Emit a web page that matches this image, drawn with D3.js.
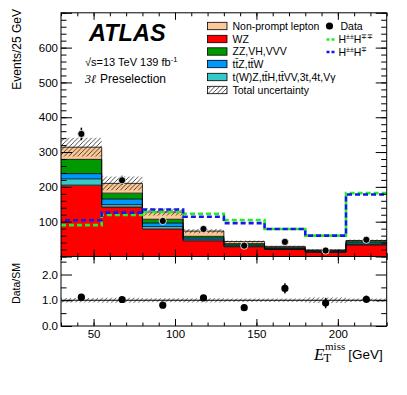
<!DOCTYPE html>
<html lang="en">
<head>
<meta charset="UTF-8">
<title>ETmiss 3l preselection</title>
<script src="https://cdn.jsdelivr.net/npm/d3@7"></script>
<style>
    body { margin: 0; background: #fff; }
    svg text { font-family: "Liberation Sans", Arial, Helvetica, sans-serif; }
</style>
</head>
<body>
<div id="d3"></div>
<script>
    // bin edges (GeV)
    var binEdges = [30, 55, 80, 105, 130, 155, 180, 205, 230];
    // backgrounds, events per bin
    var wz     = [205, 142, 79, 45, 28, 20, 12, 33];
    var tOther = [18, 7, 7, 3, 2, 1, 1, 2];
    var ttV    = [15, 16, 10, 5, 3, 2, 2, 4];
    var zzVVV  = [41, 17, 11, 5, 4, 3, 2, 5];
    var fakes  = [35, 28, 21, 15, 6, 3, 2, 2];
    var totUnc = [27, 20, 10, 6, 3, 2, 2, 3];
    // data
    var dataVals = [352, 219, 102, 79, 31, 42, 17, 48];
    var dataErr  = [18, 13, 10, 9, 6, 7, 4, 7];
    // signals
    var sigPP = [90, 119, 128, 123, 105, 79, 60, 182];
    var sigPM = [104, 126, 135, 114, 96, 79, 60, 178];
    // ratio panel
    var ratioVals = [1.12, 1.03, 0.81, 1.09, 0.71, 1.46, 0.89, 1.04];
    var ratioErr  = [0.06, 0.07, 0.08, 0.11, 0.13, 0.2, 0.2, 0.14];
    // axis labels
    var xTicks = [50, 100, 150, 200];
    var yTickLabels = [100, 200, 300, 400, 500, 600];
    var ratioTicks = [0, 1, 2];

    var bkgNames = ["Non-prompt lepton", "WZ", "ZZ,VH,VVV", "tt\u0304Z,tt\u0304W", "t(W)Z,tt\u0304H,tt\u0304VV,3t,4t,V\u03b3"];
    var bkgColors = ["#fcc898", "#ff0000", "#009a00", "#0096ff", "#35c9c9"];

    var width = 407, height = 395;
    var svg = d3.select("#d3").append("svg")
        .attr("width", width)
        .attr("height", height);

    var x = d3.scaleLinear().domain([30, 230]).range([61, 386.7]);
    var y = d3.scaleLinear().domain([0, 700]).range([256.5, 12.8]);
    var yr = d3.scaleLinear().domain([0, 2.7]).range([326, 256.5]);

    var defs = svg.append("defs");
    var pat = defs.append("pattern")
        .attr("id", "hatch")
        .attr("patternUnits", "userSpaceOnUse")
        .attr("width", 4.5).attr("height", 4.5);
    pat.append("path")
        .attr("d", "M-1,1 l2,-2 M0,4.5 l4.5,-4.5 M3.5,5.5 l2,-2")
        .attr("stroke", "#000").attr("stroke-width", 0.7);

    function steps(vals) {
        var p = vals.map(function (v, i) { return {x: binEdges[i], v: v}; });
        p.push({x: binEdges[binEdges.length - 1], v: vals[vals.length - 1]});
        return p;
    }

    //stack of backgrounds, bottom to top
    var keys = ["wz", "tOther", "ttV", "zz", "fakes"];
    var keyColor = {wz: bkgColors[1], tOther: bkgColors[4], ttV: bkgColors[3], zz: bkgColors[2], fakes: bkgColors[0]};
    var rows = wz.map(function (v, i) {
        return {wz: v, tOther: tOther[i], ttV: ttV[i], zz: zzVVV[i], fakes: fakes[i]};
    });
    var series = d3.stack().keys(keys)(rows);

    var area = d3.area().curve(d3.curveStepAfter)
        .x(function (d) { return x(d.x); })
        .y0(function (d) { return y(d.y0); })
        .y1(function (d) { return y(d.y1); });
    var line = d3.line().curve(d3.curveStepAfter)
        .x(function (d) { return x(d.x); })
        .y(function (d) { return y(d.v); });

    var gStack = svg.append("g");
    series.forEach(function (s) {
        var pts = s.map(function (d, i) { return {x: binEdges[i], y0: d[0], y1: d[1]}; });
        pts.push({x: 230, y0: s[s.length - 1][0], y1: s[s.length - 1][1]});
        gStack.append("path").attr("d", area(pts)).attr("fill", keyColor[s.key]);
    });
    series.forEach(function (s) {
        gStack.append("path")
            .attr("d", line(steps(s.map(function (d) { return d[1]; }))))
            .attr("fill", "none").attr("stroke", "#000").attr("stroke-width", 0.8);
    });

    //total uncertainty
    var total = series[series.length - 1].map(function (d) { return d[1]; });
    var uncPts = total.map(function (t, i) { return {x: binEdges[i], y0: t - totUnc[i], y1: t + totUnc[i]}; });
    uncPts.push({x: 230, y0: uncPts[uncPts.length - 1].y0, y1: uncPts[uncPts.length - 1].y1});
    svg.append("path").attr("d", area(uncPts)).attr("fill", "url(#hatch)");

    //signals
    svg.append("path").attr("d", line(steps(sigPP)))
        .attr("fill", "none").attr("stroke", "#22ee22").attr("stroke-width", 2.6)
        .attr("stroke-dasharray", "5,3");
    svg.append("path").attr("d", line(steps(sigPM)))
        .attr("fill", "none").attr("stroke", "#1515f0").attr("stroke-width", 2.6)
        .attr("stroke-dasharray", "5,3").attr("stroke-dashoffset", 4);

    //data
    var centers = wz.map(function (v, i) { return (binEdges[i] + binEdges[i + 1]) / 2; });
    var gData = svg.append("g");
    gData.selectAll("line").data(dataVals).enter().append("line")
        .attr("x1", function (d, i) { return x(centers[i]); })
        .attr("x2", function (d, i) { return x(centers[i]); })
        .attr("y1", function (d, i) { return y(d - dataErr[i]); })
        .attr("y2", function (d, i) { return y(d + dataErr[i]); })
        .attr("stroke", "#000").attr("stroke-width", 1.5);
    gData.selectAll("circle").data(dataVals).enter().append("circle")
        .attr("cx", function (d, i) { return x(centers[i]); })
        .attr("cy", function (d) { return y(d); })
        .attr("r", 3.6).attr("fill", "#000").attr("stroke", "#fff").attr("stroke-width", 0.8);

    //ratio panel
    var rUnc = total.map(function (t, i) { return totUnc[i] / t; });
    var rPts = rUnc.map(function (u, i) { return {x: binEdges[i], y0: 1 - u, y1: 1 + u}; });
    rPts.push({x: 230, y0: rPts[rPts.length - 1].y0, y1: rPts[rPts.length - 1].y1});
    var rArea = d3.area().curve(d3.curveStepAfter)
        .x(function (d) { return x(d.x); })
        .y0(function (d) { return yr(d.y0); })
        .y1(function (d) { return yr(d.y1); });
    svg.append("path").attr("d", rArea(rPts)).attr("fill", "url(#hatch)");
    svg.append("line").attr("x1", x(30)).attr("x2", x(230)).attr("y1", yr(1)).attr("y2", yr(1))
        .attr("stroke", "#000").attr("stroke-width", 1);
    var gR = svg.append("g");
    gR.selectAll("line").data(ratioVals).enter().append("line")
        .attr("x1", function (d, i) { return x(centers[i]); })
        .attr("x2", function (d, i) { return x(centers[i]); })
        .attr("y1", function (d, i) { return yr(d - ratioErr[i]); })
        .attr("y2", function (d, i) { return yr(d + ratioErr[i]); })
        .attr("stroke", "#000").attr("stroke-width", 1.5);
    gR.selectAll("circle").data(ratioVals).enter().append("circle")
        .attr("cx", function (d, i) { return x(centers[i]); })
        .attr("cy", function (d) { return yr(d); })
        .attr("r", 3.6).attr("fill", "#000");

    //axes
    function axis(a, tx, ty, fs) {
        var g = svg.append("g").attr("transform", "translate(" + tx + "," + ty + ")").call(a);
        g.select(".domain").remove();
        g.selectAll("line").attr("stroke-width", 1);
        g.selectAll("text").attr("font-size", fs || 11.5).attr("fill", "#000");
        return g;
    }
    var L = x(30), R = x(230);
    axis(d3.axisLeft(y).tickValues(d3.range(0, 701, 20)).tickSize(-5.5).tickFormat(""), L, 0);
    axis(d3.axisLeft(y).tickValues(d3.range(0, 701, 100)).tickSize(-11).tickPadding(3)
        .tickFormat(function (d) { return yTickLabels.indexOf(d) >= 0 ? d : ""; }), L, 0);
    axis(d3.axisRight(y).tickValues(d3.range(0, 701, 20)).tickSize(-5.5).tickFormat(""), R, 0);
    axis(d3.axisRight(y).tickValues(d3.range(0, 701, 100)).tickSize(-11).tickFormat(""), R, 0);
    axis(d3.axisBottom(x).tickValues(d3.range(30, 231, 10)).tickSize(-3.5).tickFormat(""), 0, y(0));
    axis(d3.axisBottom(x).tickValues(xTicks).tickSize(-7).tickFormat(""), 0, y(0));
    axis(d3.axisTop(x).tickValues(d3.range(30, 231, 10)).tickSize(-3.5).tickFormat(""), 0, y(700));
    axis(d3.axisTop(x).tickValues(xTicks).tickSize(-7).tickFormat(""), 0, y(700));

    axis(d3.axisLeft(yr).tickValues([0.5, 1.5, 2.5]).tickSize(-5.5).tickFormat(""), L, 0);
    axis(d3.axisLeft(yr).tickValues(ratioTicks).tickSize(-11).tickPadding(3), L, 0);
    axis(d3.axisRight(yr).tickValues([0.5, 1.5, 2.5]).tickSize(-5.5).tickFormat(""), R, 0);
    axis(d3.axisRight(yr).tickValues(ratioTicks).tickSize(-11).tickFormat(""), R, 0);
    axis(d3.axisBottom(x).tickValues(d3.range(30, 231, 10)).tickSize(-3.5).tickFormat(""), 0, yr(0));
    axis(d3.axisBottom(x).tickValues(xTicks).tickSize(-7).tickPadding(4), 0, yr(0));
    axis(d3.axisTop(x).tickValues(d3.range(30, 231, 10)).tickSize(-3.5).tickFormat(""), 0, yr(2.7));
    axis(d3.axisTop(x).tickValues(xTicks).tickSize(-7).tickFormat(""), 0, yr(2.7));

    //frames
    svg.append("rect").attr("x", L).attr("y", y(700)).attr("width", R - L).attr("height", y(0) - y(700))
        .attr("fill", "none").attr("stroke", "#000").attr("stroke-width", 1);
    svg.append("rect").attr("x", L).attr("y", yr(2.7)).attr("width", R - L).attr("height", yr(0) - yr(2.7))
        .attr("fill", "none").attr("stroke", "#000").attr("stroke-width", 1);

    //axis titles
    svg.append("text").attr("transform", "translate(21,9) rotate(-90)")
        .attr("text-anchor", "end").attr("font-size", 12).text("Events/25 GeV");
    svg.append("text").attr("transform", "translate(20,263) rotate(-90)")
        .attr("text-anchor", "end").attr("font-size", 10.5).text("Data/SM");
    var xt = svg.append("text").attr("x", 314).attr("y", 360);
    xt.append("tspan").attr("font-family", "Liberation Serif, Times New Roman, serif")
        .attr("font-style", "italic").attr("font-size", 17).text("E");
    xt.append("tspan").attr("font-family", "Liberation Serif, Times New Roman, serif")
        .attr("font-size", 12.5).attr("dx", -1).attr("dy", 2).text("T");
    xt.append("tspan").attr("font-family", "Liberation Serif, Times New Roman, serif")
        .attr("font-size", 11).attr("dx", -6).attr("dy", -12).text("miss");
    xt.append("tspan").attr("font-size", 13.5).attr("dx", 3).attr("dy", 9).text("[GeV]");

    //ATLAS labels
    svg.append("text").attr("x", 89).attr("y", 41).attr("font-size", 23.5)
        .attr("font-weight", "bold").attr("font-style", "italic").text("ATLAS");
    var t1 = svg.append("text").attr("x", 85).attr("y", 66).attr("font-size", 11);
    t1.append("tspan").text("\u221as=13 TeV 139 fb");
    t1.append("tspan").attr("font-size", 7.5).attr("dy", -4).text("-1");
    var t2 = svg.append("text").attr("x", 85).attr("y", 83).attr("font-size", 12);
    t2.append("tspan").attr("font-family", "Liberation Serif, Times New Roman, serif")
        .attr("font-style", "italic").text("3\u2113");
    t2.append("tspan").attr("dx", 4).text("Preselection");

    //legend
    var lg = svg.append("g");
    var rowY = [26, 39, 51.5, 64, 77, 90];
    bkgNames.forEach(function (n, i) {
        lg.append("rect").attr("x", 207.5).attr("y", rowY[i] - 3.7).attr("width", 19.5).attr("height", 7.4)
            .attr("fill", bkgColors[i]).attr("stroke", "#000").attr("stroke-width", 0.8);
        lg.append("text").attr("x", 232.5).attr("y", rowY[i] + 3.7).attr("font-size", 10.5).text(n);
    });
    lg.append("rect").attr("x", 207.5).attr("y", rowY[5] - 3.7).attr("width", 19.5).attr("height", 7.4)
        .attr("fill", "url(#hatch)").attr("stroke", "#000").attr("stroke-width", 0.8);
    lg.append("text").attr("x", 232.5).attr("y", rowY[5] + 3.7).attr("font-size", 10.5).text("Total uncertainty");

    lg.append("circle").attr("cx", 329.5).attr("cy", 26).attr("r", 3.6).attr("fill", "#000");
    lg.append("text").attr("x", 340.5).attr("y", 29.7).attr("font-size", 10.5).text("Data");
    [["#22ee22", 39.5, "\u00b1\u00b1", "\u2213\u2213"], ["#1515f0", 52, "\u00b1\u00b1", "\u2213"]].forEach(function (s) {
        lg.append("line").attr("x1", 326.5).attr("x2", 336).attr("y1", s[1]).attr("y2", s[1])
            .attr("stroke", s[0]).attr("stroke-width", 2.6).attr("stroke-dasharray", "3,2");
        var t = lg.append("text").attr("x", 338.5).attr("y", s[1] + 3.7).attr("font-size", 10.5);
        t.append("tspan").text("H");
        t.append("tspan").attr("font-size", 7).attr("dy", -4).text(s[2]);
        t.append("tspan").attr("dy", 4).text("H");
        t.append("tspan").attr("font-size", 7).attr("dy", -4).text(s[3]);
    });
</script>
</body>
</html>
